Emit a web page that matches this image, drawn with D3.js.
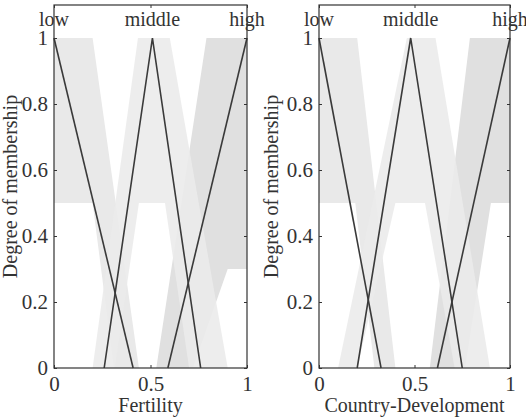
<!DOCTYPE html>
<html lang="en">
	<head>
		<meta charset="utf-8">
		<title>Membership functions</title>
		<script type="text/javascript" src="https://d3js.org/d3.v7.min.js"></script>
		<style type="text/css">
			body { margin: 0; background: #fff; }
			text { font-family: "Liberation Serif", "DejaVu Serif", serif; fill: #333; }
		</style>
	</head>
	<body>
		<script type="text/javascript">

			//Width and height
			var w = 526;
			var h = 417;

			// shared axis values
			var xTicks = [0, 0.5, 1];
			var yTicks = [0, 0.2, 0.4, 0.6, 0.8, 1];
			var mfNames = ["low", "middle", "high"];
			var yLabel = "Degree of membership";

			// Fertility: type-1 lines
			var fertLow = [[0, 1], [0.41, 0]];
			var fertMiddle = [[0.26, 0], [0.51, 1], [0.76, 0]];
			var fertHigh = [[0.59, 0], [1, 1]];
			// Fertility: upper / lower membership (footprint of uncertainty)
			var fertLowUpper = [[0, 1], [0.2, 1], [0.44, 0]];
			var fertLowLower = [[0, 0.5], [0.2, 0.5], [0.31, 0]];
			var fertMiddleUpper = [[0.2, 0], [0.435, 1], [0.6, 1], [0.9, 0]];
			var fertMiddleLower = [[0.315, 0], [0.44, 0.5], [0.575, 0.5], [0.7, 0]];
			var fertHighUpper = [[0.53, 0], [0.79, 1], [1, 1]];
			var fertHighLower = [[0.72, 0], [0.9, 0.3], [1, 0.3]];

			// Country-Development: type-1 lines
			var devLow = [[0, 1], [0.325, 0]];
			var devMiddle = [[0.2, 0], [0.48, 1], [0.75, 0]];
			var devHigh = [[0.62, 0], [1, 1]];
			// Country-Development: upper / lower membership
			var devLowUpper = [[0, 1], [0.2, 1], [0.4, 0]];
			var devLowLower = [[0, 0.5], [0.19, 0.5], [0.29, 0]];
			var devMiddleUpper = [[0.1, 0], [0.46, 1], [0.61, 1], [0.895, 0]];
			var devMiddleLower = [[0.2, 0], [0.4, 0.5], [0.555, 0.5], [0.71, 0]];
			var devHighUpper = [[0.58, 0], [0.79, 1], [1, 1]];
			var devHighLower = [[0.765, 0], [0.9, 0.5], [1, 0.5]];

			//Create SVG element
			var svg = d3.select("body")
						.append("svg")
						.attr("width", w)
						.attr("height", h);

			function drawPanel(left, right, title, lines, fous, labelX) {
				var x = d3.scaleLinear().domain([0, 1]).range([left, right]);
				var y = d3.scaleLinear().domain([0, 1]).range([368, 38]);
				var yTop = 1.1;

				var line = d3.line()
					.x(function(d) { return x(d[0]); })
					.y(function(d) { return y(d[1]); });

				// footprints: upper followed by lower reversed
				var fills = ["#e9e9e9", "#ebebeb", "#e0e0e0"];
				var order = [0, 2, 1];
				order.forEach(function(i) {
					var poly = fous[i][0].concat(fous[i][1].slice().reverse());
					svg.append("path")
						.attr("d", line(poly) + "Z")
						.attr("fill", fills[i])
						.attr("fill-opacity", i == 1 ? 0.9 : 1);
				});

				// type-1 lines
				lines.forEach(function(l) {
					svg.append("path")
						.attr("d", line(l))
						.attr("fill", "none")
						.attr("stroke", "#3a3a3a")
						.attr("stroke-width", 1.6);
				});

				// frame
				svg.append("rect")
					.attr("x", x(0))
					.attr("y", y(yTop))
					.attr("width", x(1) - x(0))
					.attr("height", y(0) - y(yTop))
					.attr("fill", "none")
					.attr("stroke", "#333")
					.attr("stroke-width", 1.2);

				// axes with inward ticks
				var gx = svg.append("g").attr("transform", "translate(0," + y(0) + ")")
					.call(d3.axisBottom(x).tickValues(xTicks).tickSizeInner(-3).tickSizeOuter(0)
						.tickPadding(8).tickFormat(d3.format("")));
				svg.append("g").attr("transform", "translate(0," + y(yTop) + ")")
					.call(d3.axisTop(x).tickValues(xTicks).tickSizeInner(-3).tickSizeOuter(0).tickFormat(""));
				var gy = svg.append("g").attr("transform", "translate(" + x(0) + ",0)")
					.call(d3.axisLeft(y).tickValues(yTicks).tickSizeInner(-3).tickSizeOuter(0)
						.tickPadding(6).tickFormat(d3.format("")));
				svg.append("g").attr("transform", "translate(" + x(1) + ",0)")
					.call(d3.axisRight(y).tickValues(yTicks).tickSizeInner(-3).tickSizeOuter(0).tickFormat(""));

				svg.selectAll(".domain").remove();
				svg.selectAll(".tick line").attr("stroke", "#333");
				gx.selectAll("text").attr("font-size", 21).attr("fill", "#333")
					.attr("font-family", "Liberation Serif");
				gy.selectAll("text").attr("font-size", 21).attr("fill", "#333")
					.attr("font-family", "Liberation Serif");

				// membership function names above each peak
				mfNames.forEach(function(n, i) {
					var peak = lines[i].filter(function(p) { return p[1] == 1; })[0];
					svg.append("text")
						.attr("x", x(peak[0]))
						.attr("y", 26)
						.attr("text-anchor", "middle")
						.attr("font-size", 20)
						.text(n);
				});

				// axis titles
				svg.append("text")
					.attr("x", (x(0) + x(1)) / 2)
					.attr("y", 412)
					.attr("text-anchor", "middle")
					.attr("font-size", 20)
					.text(title);
				svg.append("text")
					.attr("transform", "translate(" + labelX + "," + ((y(0) + y(yTop)) / 2) + ") rotate(-90)")
					.attr("text-anchor", "middle")
					.attr("font-size", 20)
					.text(yLabel);
			}

			drawPanel(54, 247, "Fertility",
				[fertLow, fertMiddle, fertHigh],
				[[fertLowUpper, fertLowLower], [fertMiddleUpper, fertMiddleLower], [fertHighUpper, fertHighLower]],
				17);

			drawPanel(319, 510, "Country-Development",
				[devLow, devMiddle, devHigh],
				[[devLowUpper, devLowLower], [devMiddleUpper, devMiddleLower], [devHighUpper, devHighLower]],
				278);

		</script>
	</body>
</html>
